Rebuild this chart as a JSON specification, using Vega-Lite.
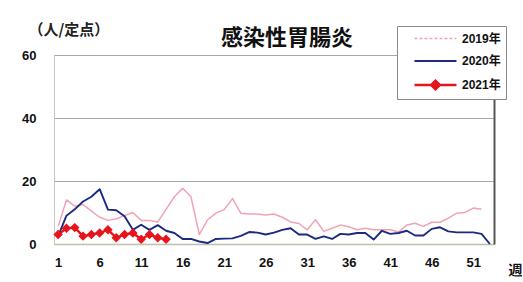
{
  "$schema": "https://vega.github.io/schema/vega-lite/v6.json",
  "width": 440,
  "height": 189,
  "autosize": {"type": "none"},
  "padding": {"left": 54, "top": 55, "right": 29, "bottom": 38},
  "background": "white",
  "title": {
    "text": "感染性胃腸炎",
    "anchor": "middle",
    "dx": 13,
    "dy": 57,
    "offset": 7,
    "baseline": "bottom",
    "font": "Noto Sans CJK JP",
    "fontSize": 22,
    "fontWeight": "bold",
    "color": "#111111"
  },
  "data": {
    "values": [
      {"w": 1, "yr": "2019年", "v": 5.6}, {"w": 2, "yr": "2019年", "v": 14}, {"w": 3, "yr": "2019年", "v": 12}, {"w": 4, "yr": "2019年", "v": 12.5},
      {"w": 5, "yr": "2019年", "v": 10.5}, {"w": 6, "yr": "2019年", "v": 8.5}, {"w": 7, "yr": "2019年", "v": 7.5}, {"w": 8, "yr": "2019年", "v": 8},
      {"w": 9, "yr": "2019年", "v": 9}, {"w": 10, "yr": "2019年", "v": 10}, {"w": 11, "yr": "2019年", "v": 7.5}, {"w": 12, "yr": "2019年", "v": 7.5},
      {"w": 13, "yr": "2019年", "v": 7}, {"w": 14, "yr": "2019年", "v": 11}, {"w": 15, "yr": "2019年", "v": 15}, {"w": 16, "yr": "2019年", "v": 17.7},
      {"w": 17, "yr": "2019年", "v": 15}, {"w": 18, "yr": "2019年", "v": 3}, {"w": 19, "yr": "2019年", "v": 7.7}, {"w": 20, "yr": "2019年", "v": 9.8},
      {"w": 21, "yr": "2019年", "v": 10.9}, {"w": 22, "yr": "2019年", "v": 14.4}, {"w": 23, "yr": "2019年", "v": 9.8}, {"w": 24, "yr": "2019年", "v": 9.5},
      {"w": 25, "yr": "2019年", "v": 9.5}, {"w": 26, "yr": "2019年", "v": 9.2}, {"w": 27, "yr": "2019年", "v": 9.5}, {"w": 28, "yr": "2019年", "v": 8.5},
      {"w": 29, "yr": "2019年", "v": 7}, {"w": 30, "yr": "2019年", "v": 6.5}, {"w": 31, "yr": "2019年", "v": 4.5}, {"w": 32, "yr": "2019年", "v": 7.7},
      {"w": 33, "yr": "2019年", "v": 4}, {"w": 34, "yr": "2019年", "v": 5}, {"w": 35, "yr": "2019年", "v": 6}, {"w": 36, "yr": "2019年", "v": 5.5},
      {"w": 37, "yr": "2019年", "v": 4.5}, {"w": 38, "yr": "2019年", "v": 5}, {"w": 39, "yr": "2019年", "v": 4.5}, {"w": 40, "yr": "2019年", "v": 4.5},
      {"w": 41, "yr": "2019年", "v": 4.5}, {"w": 42, "yr": "2019年", "v": 3.8}, {"w": 43, "yr": "2019年", "v": 6}, {"w": 44, "yr": "2019年", "v": 6.6},
      {"w": 45, "yr": "2019年", "v": 5.6}, {"w": 46, "yr": "2019年", "v": 6.9}, {"w": 47, "yr": "2019年", "v": 6.9}, {"w": 48, "yr": "2019年", "v": 8.2},
      {"w": 49, "yr": "2019年", "v": 9.8}, {"w": 50, "yr": "2019年", "v": 10}, {"w": 51, "yr": "2019年", "v": 11.4}, {"w": 52, "yr": "2019年", "v": 11},
      {"w": 1, "yr": "2020年", "v": 2.5}, {"w": 2, "yr": "2020年", "v": 9}, {"w": 3, "yr": "2020年", "v": 11}, {"w": 4, "yr": "2020年", "v": 13.5},
      {"w": 5, "yr": "2020年", "v": 15}, {"w": 6, "yr": "2020年", "v": 17.4}, {"w": 7, "yr": "2020年", "v": 10.9}, {"w": 8, "yr": "2020年", "v": 10.7},
      {"w": 9, "yr": "2020年", "v": 8.8}, {"w": 10, "yr": "2020年", "v": 4.5}, {"w": 11, "yr": "2020年", "v": 6.1}, {"w": 12, "yr": "2020年", "v": 4.5},
      {"w": 13, "yr": "2020年", "v": 6}, {"w": 14, "yr": "2020年", "v": 4.2}, {"w": 15, "yr": "2020年", "v": 3.5}, {"w": 16, "yr": "2020年", "v": 1.6},
      {"w": 17, "yr": "2020年", "v": 1.6}, {"w": 18, "yr": "2020年", "v": 0.8}, {"w": 19, "yr": "2020年", "v": 0.3}, {"w": 20, "yr": "2020年", "v": 1.6},
      {"w": 21, "yr": "2020年", "v": 1.7}, {"w": 22, "yr": "2020年", "v": 1.8}, {"w": 23, "yr": "2020年", "v": 2.6}, {"w": 24, "yr": "2020年", "v": 3.8},
      {"w": 25, "yr": "2020年", "v": 3.6}, {"w": 26, "yr": "2020年", "v": 3}, {"w": 27, "yr": "2020年", "v": 3.6}, {"w": 28, "yr": "2020年", "v": 4.5},
      {"w": 29, "yr": "2020年", "v": 5}, {"w": 30, "yr": "2020年", "v": 3}, {"w": 31, "yr": "2020年", "v": 3}, {"w": 32, "yr": "2020年", "v": 1.6},
      {"w": 33, "yr": "2020年", "v": 2.4}, {"w": 34, "yr": "2020年", "v": 1.6}, {"w": 35, "yr": "2020年", "v": 3.2}, {"w": 36, "yr": "2020年", "v": 3},
      {"w": 37, "yr": "2020年", "v": 3.5}, {"w": 38, "yr": "2020年", "v": 3.5}, {"w": 39, "yr": "2020年", "v": 1.4}, {"w": 40, "yr": "2020年", "v": 4.2},
      {"w": 41, "yr": "2020年", "v": 3.2}, {"w": 42, "yr": "2020年", "v": 3.5}, {"w": 43, "yr": "2020年", "v": 4.2}, {"w": 44, "yr": "2020年", "v": 2.7},
      {"w": 45, "yr": "2020年", "v": 2.7}, {"w": 46, "yr": "2020年", "v": 4.8}, {"w": 47, "yr": "2020年", "v": 5.3}, {"w": 48, "yr": "2020年", "v": 4},
      {"w": 49, "yr": "2020年", "v": 3.7}, {"w": 50, "yr": "2020年", "v": 3.7}, {"w": 51, "yr": "2020年", "v": 3.7}, {"w": 52, "yr": "2020年", "v": 3.2},
      {"w": 53, "yr": "2020年", "v": 0},
      {"w": 1, "yr": "2021年", "v": 3}, {"w": 2, "yr": "2021年", "v": 5}, {"w": 3, "yr": "2021年", "v": 5.2}, {"w": 4, "yr": "2021年", "v": 2.5},
      {"w": 5, "yr": "2021年", "v": 3}, {"w": 6, "yr": "2021年", "v": 3.5}, {"w": 7, "yr": "2021年", "v": 4.5}, {"w": 8, "yr": "2021年", "v": 2},
      {"w": 9, "yr": "2021年", "v": 3}, {"w": 10, "yr": "2021年", "v": 3.5}, {"w": 11, "yr": "2021年", "v": 1.5}, {"w": 12, "yr": "2021年", "v": 3},
      {"w": 13, "yr": "2021年", "v": 2}, {"w": 14, "yr": "2021年", "v": 1.5}
    ]
  },
  "layer": [
    {
      "mark": {"type": "line", "strokeJoin": "round"},
      "encoding": {
        "x": {
          "field": "w", "type": "quantitative",
          "scale": {"domain": [0.5, 53.5], "nice": false, "zero": false},
          "axis": {
            "values": [1, 6, 11, 16, 21, 26, 31, 36, 41, 46, 51],
            "title": "週", "titleAngle": 0, "titleAlign": "left", "titleBaseline": "middle",
            "titleX": 454, "titleY": 26, "titleFont": "Noto Sans CJK JP", "titleFontSize": 14, "titleFontWeight": "bold", "titleColor": "#111111",
            "grid": false, "ticks": false, "labelPadding": 12,
            "labelFont": "Liberation Sans", "labelFontSize": 13, "labelFontWeight": "bold", "labelColor": "#111111",
            "domainColor": "#c0c0a8", "domainWidth": 1.5
          }
        },
        "y": {
          "field": "v", "type": "quantitative",
          "scale": {"domain": [0, 60], "nice": false},
          "axis": {
            "values": [0, 20, 40, 60],
            "title": "（人/定点）", "titleAngle": 0, "titleAlign": "left", "titleBaseline": "middle",
            "titleX": -26, "titleY": -26, "titleFont": "Noto Sans CJK JP", "titleFontSize": 15, "titleFontWeight": "bold", "titleColor": "#222222",
            "grid": true, "gridColor": "#a8a8a8", "gridWidth": 1,
            "ticks": false, "domain": false, "labelPadding": 18,
            "labelFont": "Liberation Sans", "labelFontSize": 13, "labelFontWeight": "bold", "labelColor": "#111111"
          }
        },
        "color": {
          "field": "yr", "type": "nominal",
          "scale": {"domain": ["2019年", "2020年", "2021年"], "range": ["#f2a3b3", "#1c2a80", "#e8141c"]},
          "legend": {
            "orient": "none", "legendX": 343, "legendY": -29, "title": null,
            "padding": 4.5, "strokeColor": "#8a8a8a", "fillColor": "white",
            "symbolSize": 196, "labelOffset": 43.5, "rowPadding": 8.5,
            "labelFont": "Liberation Sans, Noto Sans CJK JP", "labelFontSize": 12, "labelFontWeight": "bold", "labelColor": "#111111",
            "labelExpr": "datum.label + '    '",
            "encode": {
              "symbols": {
                "update": {
                  "shape": {"signal": "datum.value === '2021年' ? 'M0.64,0L6.64,0M3.64,-0.64L4.28,0L3.64,0.64L3,0Z' : 'M0.64,0L6.64,0'"},
                  "fill": {"signal": "datum.value === '2021年' ? '#e8141c' : 'transparent'"},
                  "strokeWidth": {"signal": "datum.value === '2021年' ? 4 : datum.value === '2020年' ? 2.2 : 1.5"},
                  "strokeDash": {"signal": "datum.value === '2019年' ? [3, 2] : []"}
                }
              }
            }
          }
        },
        "strokeWidth": {
          "field": "yr", "type": "nominal",
          "scale": {"domain": ["2019年", "2020年", "2021年"], "range": [1.5, 2.3, 3.5]},
          "legend": null
        }
      }
    },
    {
      "transform": [{"filter": "datum.yr === '2021年'"}],
      "mark": {"type": "point", "shape": "diamond", "filled": true, "size": 90, "opacity": 1},
      "encoding": {
        "x": {"field": "w", "type": "quantitative"},
        "y": {
          "field": "v", "type": "quantitative",
          "axis": {"orient": "right", "labels": false, "ticks": false, "grid": false, "title": null, "domainColor": "#555555", "domainWidth": 2}
        },
        "color": {"field": "yr", "type": "nominal"}
      }
    }
  ],
  "resolve": {"axis": {"y": "independent"}},
  "config": {
    "view": {"stroke": "#c8c8c8", "strokeWidth": 1}
  }
}
